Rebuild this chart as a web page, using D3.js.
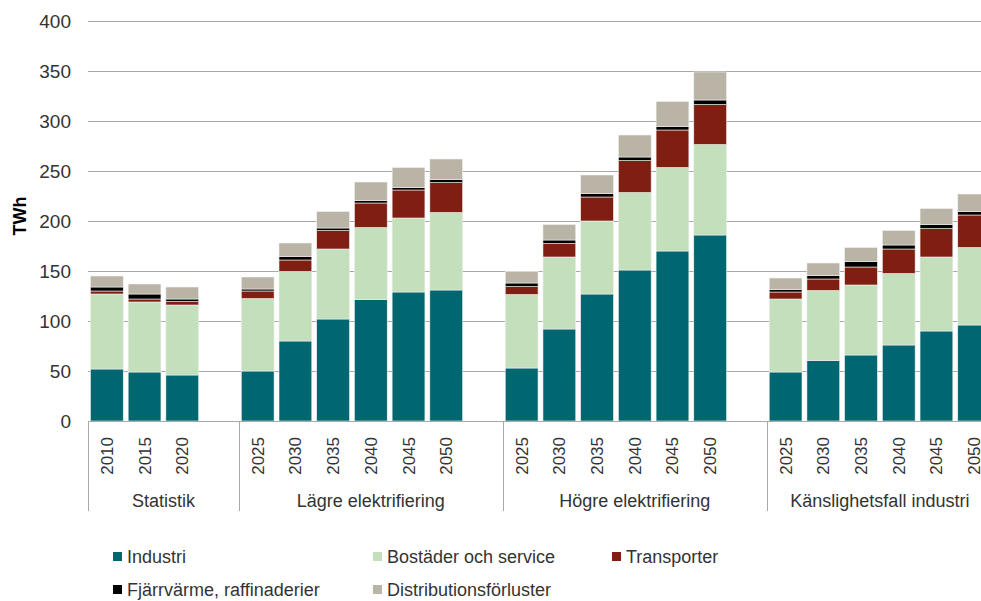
<!DOCTYPE html>
<html>
<head>
<meta charset="utf-8">
<script src="https://cdn.jsdelivr.net/npm/d3@7"></script>
<style>
  body { margin: 0; background: #fff; }
  text { font-family: "Liberation Sans", Arial, sans-serif; fill: #333; }
</style>
</head>
<body>
<div id="chart"></div>
<script>
// Scenario groups and their years
const groups = ["Statistik", "Lägre elektrifiering", "Högre elektrifiering", "Känslighetsfall industri"];
const groupYears = [
  ["2010", "2015", "2020"],
  ["2025", "2030", "2035", "2040", "2045", "2050"],
  ["2025", "2030", "2035", "2040", "2045", "2050"],
  ["2025", "2030", "2035", "2040", "2045", "2050"]
];

// Series (TWh), one value per bar in the order above
const seriesNames = ["Industri", "Bostäder och service", "Transporter", "Fjärrvärme, raffinaderier", "Distributionsförluster"];
const industri     = [52, 49, 46,   50, 80, 102, 121.5, 129, 131,   53, 92, 127, 151, 170, 186,   49, 60.5, 66, 76, 90, 96];
const bostader     = [75, 70, 70,   72.5, 69.5, 70, 72, 74, 77.5,   73.5, 72, 73, 77.5, 83.5, 90.5,   73, 70, 70, 71.5, 74, 77.5];
const transporter  = [3, 3, 3.5,    7.5, 11.5, 18.5, 24.5, 28, 30,   8, 13.5, 24, 32, 37.5, 40,   7, 11.5, 18, 24.5, 28.5, 32.5];
const fjarrvarme   = [4, 5, 2.5,    2, 3.5, 2.5, 2.5, 2.5, 3,   3.5, 3.5, 3.5, 3.5, 3.5, 4.5,   2.5, 3.5, 5.5, 4, 4, 3.5];
const distribution = [11, 10, 12,   12, 13.5, 16.5, 18.5, 20, 20.5,   11.5, 15.5, 18.5, 22, 25, 28,   11.5, 12.5, 14, 14.5, 16, 17.5];

const yTicks = [0, 50, 100, 150, 200, 250, 300, 350, 400];
const colors = ["#00666f", "#c3dfbb", "#7f1f11", "#000000", "#bab4a7"];

const WIDTH = 981, HEIGHT = 601;
const svg = d3.select("#chart").append("svg")
  .attr("width", WIDTH).attr("height", HEIGHT);

// Build rows + slot list (one blank slot after each group)
const rows = [];
const slots = [];
let i = 0;
groupYears.forEach((yrs, g) => {
  yrs.forEach((yr) => {
    const key = g + "-" + yr;
    slots.push(key);
    rows.push({
      key, group: g, year: yr,
      Industri: industri[i],
      "Bostäder och service": bostader[i],
      Transporter: transporter[i],
      "Fjärrvärme, raffinaderier": fjarrvarme[i],
      Distributionsförluster: distribution[i]
    });
    i++;
  });
  if (g < groupYears.length - 1) slots.push("blank-" + g);
});

// SCALES
const x = d3.scaleBand()
  .domain(slots)
  .range([88, 993])
  .paddingInner(0.13)
  .paddingOuter(0.065);

const y = d3.scaleLinear().domain([0, 400]).range([421, 21]);

// Gridlines
svg.append("g")
  .selectAll("line")
  .data(yTicks.slice(1))
  .join("line")
  .attr("x1", 88).attr("x2", WIDTH)
  .attr("y1", (d) => y(d) + 0.5).attr("y2", (d) => y(d) + 0.5)
  .attr("stroke", "#a8a8a8");

// Y tick labels
svg.append("g")
  .selectAll("text")
  .data(yTicks)
  .join("text")
  .attr("x", 71)
  .attr("y", (d) => y(d))
  .attr("dy", "0.35em")
  .attr("text-anchor", "end")
  .style("font-size", "19px")
  .text((d) => d);

// Axis title
svg.append("text")
  .attr("transform", "translate(26,216) rotate(-90)")
  .attr("text-anchor", "middle")
  .style("font-size", "18px")
  .style("font-weight", "bold")
  .style("fill", "#000")
  .text("TWh");

// Stacked bars
const stack = d3.stack().keys(seriesNames)(rows);
svg.append("g")
  .selectAll("g")
  .data(stack)
  .join("g")
  .attr("fill", (d, k) => colors[k])
  .selectAll("rect")
  .data((d) => d)
  .join("rect")
  .attr("x", (d) => x(d.data.key))
  .attr("y", (d) => y(d[1]))
  .attr("width", x.bandwidth())
  .attr("height", (d) => y(d[0]) - y(d[1]))
  .attr("stroke", "#f2f2f2")
  .attr("stroke-width", 0.6);

// X baseline
svg.append("line")
  .attr("x1", 88).attr("x2", WIDTH)
  .attr("y1", 421.5).attr("y2", 421.5)
  .attr("stroke", "#a8a8a8");

// Year labels
svg.append("g")
  .selectAll("text")
  .data(rows)
  .join("text")
  .attr("transform", (d) => `translate(${x(d.key) + x.bandwidth() / 2 + 6},437) rotate(-90)`)
  .attr("text-anchor", "end")
  .style("font-size", "17px")
  .text((d) => d.year);

// Group separators and labels
const step = x.step();
const groupBounds = [];
let start = 0;
groupYears.forEach((yrs, g) => {
  const n = yrs.length + (g < groupYears.length - 1 ? 1 : 0);
  groupBounds.push({ g, x0: 88 + start * step, x1: 88 + (start + n) * step });
  start += n;
});

svg.append("g")
  .selectAll("line")
  .data(groupBounds)
  .join("line")
  .attr("x1", (d) => Math.round(d.x0) + 0.5).attr("x2", (d) => Math.round(d.x0) + 0.5)
  .attr("y1", 421).attr("y2", 511)
  .attr("stroke", "#a8a8a8");

svg.append("g")
  .selectAll("text")
  .data(groupBounds)
  .join("text")
  .attr("x", (d) => (d.x0 + d.x1) / 2)
  .attr("y", 507)
  .attr("text-anchor", "middle")
  .style("font-size", "18px")
  .text((d) => groups[d.g]);

// Legend
const legendPos = [[113, 552], [373, 552], [612, 552], [113, 585], [373, 585]];
const legend = svg.append("g")
  .selectAll("g")
  .data(seriesNames)
  .join("g")
  .attr("transform", (d, k) => `translate(${legendPos[k][0]},${legendPos[k][1]})`);

legend.append("rect")
  .attr("width", 9).attr("height", 9)
  .attr("fill", (d, k) => colors[k]);

legend.append("text")
  .attr("x", 14)
  .attr("y", 5)
  .attr("dy", "0.35em")
  .style("font-size", "18px")
  .text((d) => d);
</script>
</body>
</html>
